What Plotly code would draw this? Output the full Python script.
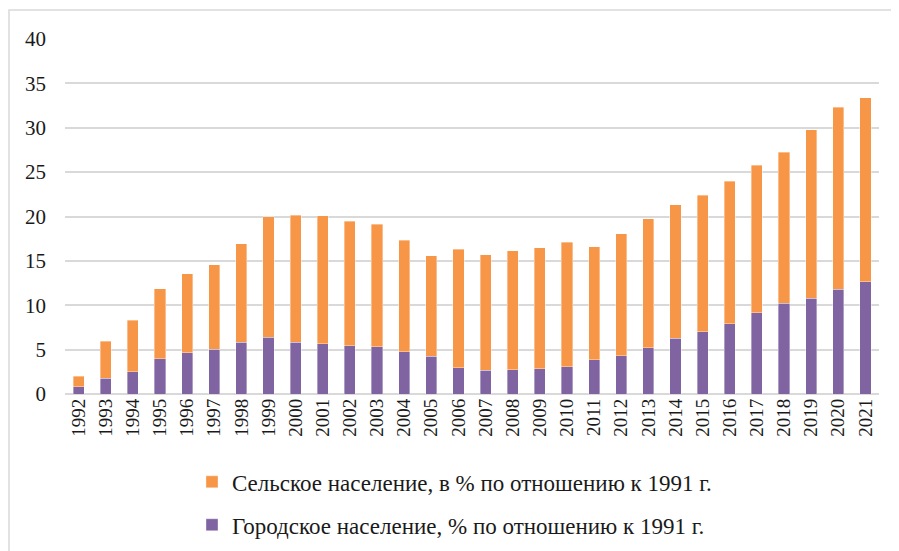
import plotly.graph_objects as go

years = [str(y) for y in range(1992, 2022)]
totals = [2.0, 5.95, 8.3, 11.85, 13.55, 14.55, 16.95, 19.95, 20.15, 20.1, 19.45, 19.1,
          17.35, 15.6, 16.3, 15.7, 16.15, 16.5, 17.1, 16.6, 18.05, 19.75, 21.3, 22.4,
          23.95, 25.8, 27.25, 29.75, 32.3, 33.4]
urban = [0.8, 1.8, 2.5, 4.0, 4.65, 5.05, 5.85, 6.4, 5.85, 5.65, 5.45, 5.3,
         4.75, 4.25, 2.95, 2.7, 2.75, 2.85, 3.05, 3.85, 4.3, 5.2, 6.3, 7.0,
         7.9, 9.15, 10.25, 10.8, 11.8, 12.65]
rural = [round(t - u, 2) for t, u in zip(totals, urban)]

name_rural = "Сельское население, в % по отношению к 1991 г."
name_urban = "Городское население, % по отношению к 1991 г."

serif = "Liberation Serif"
edge = dict(width=0.6, color="rgba(255,255,255,0.6)")
fig = go.Figure()
fig.add_trace(go.Bar(x=years, y=urban, name=name_urban, marker_color="#8064A2",
                     legendgroup="u", legendrank=2, marker_line=edge))
fig.add_trace(go.Bar(x=years, y=rural, name=name_rural, marker_color="#F79646",
                     legendgroup="r", legendrank=1, marker_line=edge))

fig.update_layout(
    barmode="stack",
    bargap=0.59,
    width=891, height=543,
    margin=dict(l=57, r=20, t=31, b=157, autoexpand=False),
    paper_bgcolor="white",
    plot_bgcolor="white",
    font=dict(family=serif, color="#1a1a1a"),
    showlegend=True,
    legend=dict(
        orientation="v",
        x=(192 - 65) / 814, xanchor="left",
        y=-0.187, yanchor="top",
        traceorder="grouped",
        tracegroupgap=10,
        font=dict(size=23, family=serif, color="#1a1a1a"),
        itemwidth=30,
    ),
    xaxis=dict(
        type="category",
        tickangle=-90,
        tickfont=dict(size=19, family=serif),
        showgrid=False,
        showline=False,
        ticks="",
        automargin=False,
    ),
    yaxis=dict(
        range=[0, 40],
        dtick=5,
        tickfont=dict(size=21, family=serif),
        showgrid=True,
        gridcolor="#d9d9d9",
        gridwidth=1.5,
        zeroline=True,
        zerolinecolor="#d9d9d9",
        zerolinewidth=1.5,
        showline=False,
        ticks="",
        ticklabelstandoff=18,
        automargin=False,
    ),
    shapes=[dict(type="rect", xref="paper", yref="paper",
                 x0=(9 - 65) / 814, x1=(905 - 65) / 814,
                 y0=(394 - 560) / 355, y1=(394 - 10) / 355,
                 line=dict(color="#d9d9d9", width=1.5), fillcolor="rgba(0,0,0,0)", layer="below")],
)

fig.write_html("out.html")
